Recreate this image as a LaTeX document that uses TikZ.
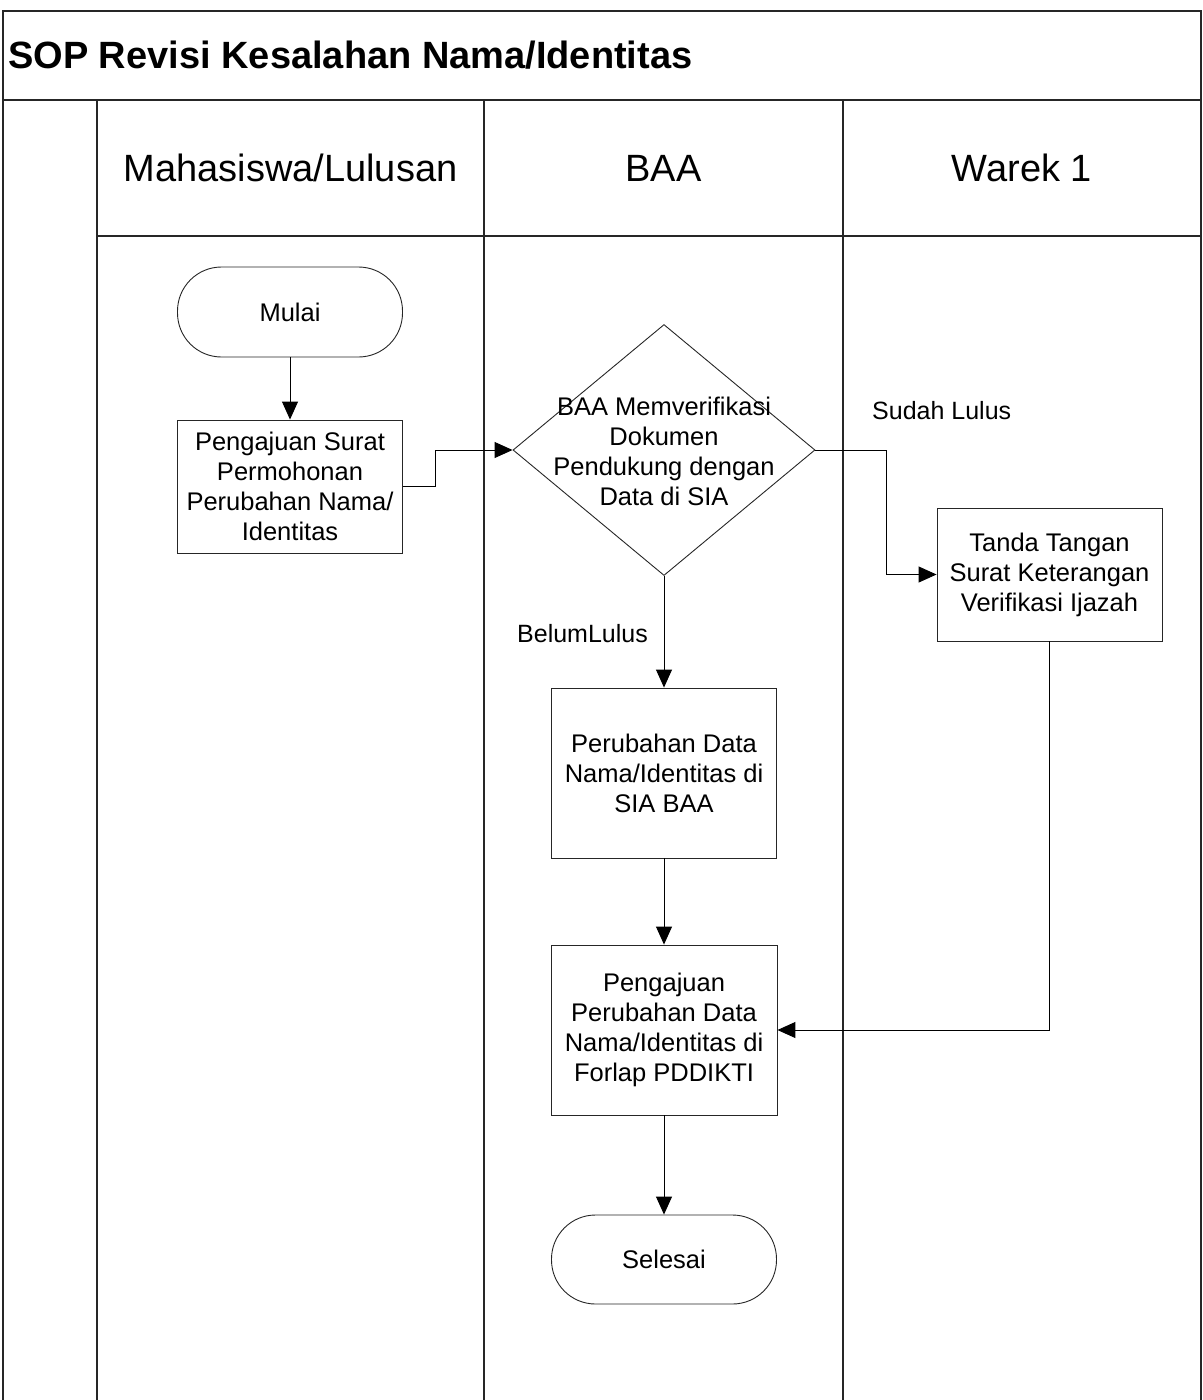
\documentclass[tikz,border=0pt]{standalone}
\usepackage{fontspec}
\setmainfont{Liberation Sans}
\usetikzlibrary{shapes.geometric,arrows.meta}
\begin{document}
\begin{tikzpicture}[x=1pt,y=-1pt,
  lane/.style={line width=1.2pt, draw=black!85},
  shapeline/.style={draw=black!85, line width=0.9pt},
  txt/.style={font=\fontsize{25.5}{30}\selectfont, align=center, inner sep=0pt},
  proc/.style={shapeline, txt, minimum width=225pt, minimum height=133pt},
  term/.style={shapeline, txt, minimum width=225pt, minimum height=90pt, rounded corners=44pt},
  decision/.style={shapeline, diamond, minimum width=302pt, minimum height=251pt, inner sep=0pt},
  hdr/.style={font=\fontsize{38}{44}\selectfont, inner sep=0pt},
  arr/.style={draw=black, line width=1pt, -{Triangle[length=18pt,width=16pt]}},
  lbl/.style={font=\fontsize{25}{30}\selectfont, inner sep=0pt, anchor=west}]
\useasboundingbox (0,0) rectangle (1202,1400);
% frame and lanes
\draw[lane] (3,1400) -- (3,11) -- (1201,11) -- (1201,1400);
\draw[lane, line width=2pt] (3,100) -- (1201,100);
\draw[lane] (97,100) -- (97,1400);
\draw[lane] (484,100) -- (484,1400);
\draw[lane] (843,100) -- (843,1400);
\draw[lane] (97,236) -- (1201,236);
\node[font=\fontsize{38}{44}\selectfont\bfseries, inner sep=0pt, anchor=base west] (title) at (8,68) {SOP Revisi Kesalahan Nama/Identitas};
\node[hdr] (h1) at (290.5,168) {Mahasiswa/Lulusan};
\node[hdr] (h2) at (663.5,168) {BAA};
\node[hdr] (h3) at (1022,168) {Warek 1};
% nodes
\node[term] (mulai) at (290,312) {Mulai};
\node[proc] (box1) at (290,486.5) {Pengajuan Surat\\Permohonan\\Perubahan Nama/\\Identitas};
\node[decision] (d) at (664,450) {};
\node[txt] (dtext) at (664,451) {BAA Memverifikasi\\Dokumen\\Pendukung dengan\\Data di SIA};
\node[proc] (tanda) at (1049.5,574.5) {Tanda Tangan\\Surat Keterangan\\Verifikasi Ijazah};
\node[proc, minimum height=170pt] (box2) at (664,773) {Perubahan Data\\Nama/Identitas di\\SIA BAA};
\node[proc, minimum height=170pt, minimum width=226pt] (box3) at (664,1030) {Pengajuan\\Perubahan Data\\Nama/Identitas di\\Forlap PDDIKTI};
\node[term, minimum height=89pt] (selesai) at (664,1259.5) {Selesai};
% labels
\node[lbl] (sudah) at (872,411) {Sudah Lulus};
\node[lbl] (belum) at (517,634) {BelumLulus};
% connectors
\draw[arr] (mulai) -- (box1);
\draw[arr] (box1.east) -- ++(33,0) |- (d.west);
\draw[arr] (d.east) -- ++(71,0) |- (tanda.west);
\draw[arr] (d.south) -- (box2.north);
\draw[arr] (box2) -- (box3);
\draw[arr] (tanda.south) |- (box3.east);
\draw[arr] (box3) -- (selesai);
\end{tikzpicture}
\end{document}
